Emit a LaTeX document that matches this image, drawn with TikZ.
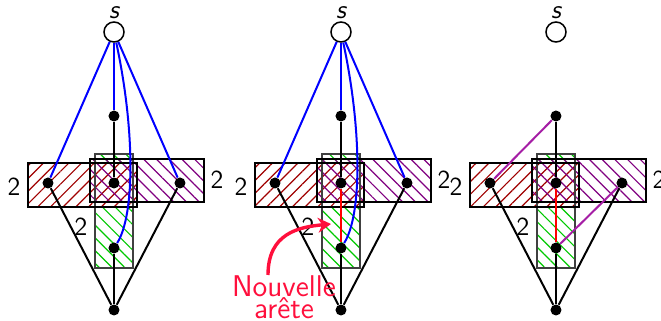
\documentclass[tikz,border=0pt]{standalone}
\usetikzlibrary{positioning,patterns.meta,arrows.meta}

\definecolor{hachrouge}{RGB}{160,0,0}
\definecolor{hachviolet}{RGB}{128,0,128}
\definecolor{hachvert}{RGB}{0,200,0}
\definecolor{areteviolet}{RGB}{165,30,165}
\definecolor{nouvrouge}{RGB}{255,15,60}

\begin{document}
\begin{tikzpicture}[x=0.5pt, y=-0.5pt,
    sommet/.style={circle, fill=black, inner sep=0pt, minimum size=5.5pt},
    source/.style={circle, draw=black, line width=0.75pt, inner sep=0pt, minimum size=10pt},
    chiffre/.style={font=\sffamily\fontsize{13}{15}\selectfont, inner sep=0pt},
    boite/.style={draw=black, line width=0.7pt},
    noir/.style={draw=black, line width=1pt},
    bleu/.style={draw=blue, line width=1pt},
    rouge/.style={draw=red, line width=1pt},
    violette/.style={draw=areteviolet, line width=1pt},
    fleche/.style={draw=nouvrouge, line width=1.7pt, -{Stealth[length=6.5pt,width=7.5pt]}}]

    \useasboundingbox (0,0) rectangle (661,321);

    % ==========================================
    % 1. BOITES, SOMMETS ET ARETES COMMUNS
    % ==========================================
    \foreach \p/\dx in {1/0, 2/227, 3/442} {
      \begin{scope}[shift={(\dx,0)}]
        % hachures (vert, puis rouge opaque, puis violet)
        \fill[pattern={Lines[angle=-45,distance=4.5pt,line width=0.6pt]}, pattern color=hachvert] (95,154) rectangle (133,268);
        \fill[white] (28,163) rectangle (137,207);
        \fill[pattern={Lines[angle=45,distance=4.5pt,line width=0.6pt]}, pattern color=hachrouge] (28,163) rectangle (137,207);
        \fill[pattern={Lines[angle=-45,distance=4.5pt,line width=0.6pt]}, pattern color=hachviolet] (90,159) rectangle (204,202);
        \draw[boite, draw=black!75] (95,154) rectangle (133,268);
        \draw[boite] (28,163) rectangle (137,207);
        \draw[boite] (90,159) rectangle (204,202);

        % sommets
        \node[source] (s\p) at (114,32) {};
        \node[chiffre, above=1pt of s\p] (ls\p) {\itshape s};
        \node[sommet] (t\p) at (114,116) {};
        \node[sommet] (g\p) at (48,183) {};
        \node[sommet] (m\p) at (114,183) {};
        \node[sommet] (d\p) at (180,183) {};
        \node[sommet] (w\p) at (114,248) {};
        \node[sommet] (b\p) at (114,310) {};

        % aretes noires
        \draw[noir] (t\p) -- (m\p);
        \draw[noir] (w\p) -- (b\p);
        \draw[noir] (g\p) -- (b\p);
        \draw[noir] (d\p) -- (b\p);

        % poids
        \node[chiffre] (cg\p) at (14,187) {2};
        \node[chiffre] (cd\p) at (217,180) {2};
        \node[chiffre] (cb\p) at (81,227) {2};
      \end{scope}
    }

    % ==========================================
    % 2. ARETES PROPRES A CHAQUE ETAPE
    % ==========================================
    % etape 1
    \draw[bleu] (s1) -- (g1);
    \draw[bleu] (s1) -- (t1);
    \draw[bleu] (s1) -- (d1);
    \draw[bleu] (s1) .. controls (135,130) and (135,215) .. (w1);

    % etape 2
    \draw[bleu] (s2) -- (g2);
    \draw[bleu] (s2) -- (t2);
    \draw[bleu] (s2) -- (d2);
    \draw[bleu] (s2) .. controls (362,130) and (362,215) .. (w2);
    \draw[rouge] (m2) -- (w2);

    % etape 3
    \draw[violette] (t3) -- (g3);
    \draw[violette] (d3) -- (w3);
    \draw[rouge] (m3) -- (w3);

    % ==========================================
    % 3. NOUVELLE ARETE
    % ==========================================
    \node[chiffre, text=nouvrouge, anchor=north, align=center, font=\sffamily\fontsize{15}{11}\selectfont] (nouv) at (284,275) {Nouvelle\\arête};
    \coordinate (pointe) at (331,224);
    \draw[fleche] ([xshift=-8pt]nouv.north) .. controls +(0,-42) and +(-32,3) .. (pointe);

\end{tikzpicture}
\end{document}
